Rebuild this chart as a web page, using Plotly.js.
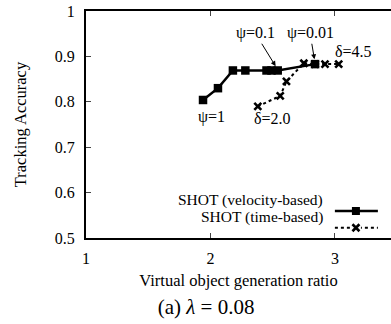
<!DOCTYPE html>
<html><head><meta charset="utf-8">
<script src="https://cdn.plot.ly/plotly-3.0.1.min.js"></script>
<style>html,body{margin:0;padding:0;background:#fff}#c{width:391px;height:324px}</style>
</head><body><div id="c"></div>
<script>
// Velocity-based SHOT
const velRatio = [1.94, 2.06, 2.18, 2.28, 2.45, 2.49, 2.54, 2.84];
const velAcc   = [0.804, 0.83, 0.869, 0.869, 0.869, 0.869, 0.869, 0.883];
// Time-based SHOT
const timeRatio = [2.38, 2.56, 2.61, 2.75, 2.84, 2.92, 3.03];
const timeAcc   = [0.79, 0.813, 0.845, 0.885, 0.883, 0.883, 0.883];
const seriesNames = ['SHOT (velocity-based)', 'SHOT (time-based)'];
const yTicks = [0.5, 0.6, 0.7, 0.8, 0.9, 1];
const yTickText = ['0.5', '0.6', '0.7', '0.8', '0.9', '1'];
const xTicks = [1, 2, 3];

const F = '"Liberation Serif", "Times New Roman", Times, serif';

const traces = [
  {x: velRatio, y: velAcc, name: seriesNames[0], mode: 'lines+markers',
   line: {color: '#000', width: 2.5},
   marker: {symbol: 'square', size: 8.5, color: '#000'}},
  {x: timeRatio, y: timeAcc, name: seriesNames[1], mode: 'lines+markers',
   line: {color: '#000', width: 2, dash: 'dot'},
   marker: {symbol: 'x-thin', size: 7, color: '#000', line: {width: 2.6, color: '#000'}}}
];

const FS = 16;
const LFS = 15.5;
const ann = (text, x, y, extra) => Object.assign({text, x, y, xref: 'x', yref: 'y', showarrow: false,
  font: {family: F, size: FS, color: '#000'}}, extra || {});

const legY1 = 0.119, legY2 = 0.045, legX0 = 0.816, legX1 = 0.957, legXm = 0.885, legText = 0.784;

const layout = {
  width: 391, height: 324,
  margin: {l: 86, r: 0, t: 11, b: 86},
  paper_bgcolor: '#fff', plot_bgcolor: '#fff',
  showlegend: false,
  font: {family: F, size: FS, color: '#000'},
  title: {text: '(a) <i>λ</i> = 0.08', font: {family: F, size: 21, color: '#000'},
          x: 0.527, xanchor: 'center', y: 0.055, yanchor: 'middle', yref: 'container'},
  xaxis: {range: [1, 3.45], tickvals: xTicks, ticks: 'inside', ticklen: 5, tickwidth: 1,
          showline: true, linewidth: 2, linecolor: '#000', mirror: 'ticks', showgrid: false, zeroline: false,
          ticklabelstandoff: 5, tickfont: {family: F, size: FS},
          title: {text: 'Virtual object generation ratio', font: {family: F, size: 16.5}, standoff: 8}},
  yaxis: {range: [0.5, 1], tickvals: yTicks, ticktext: yTickText, ticks: 'inside', ticklen: 5, tickwidth: 1,
          showline: true, linewidth: 2, linecolor: '#000', mirror: false, showgrid: false, zeroline: false,
          ticklabelstandoff: 6, tickfont: {family: F, size: FS},
          title: {text: 'Tracking Accuracy', font: {family: F, size: 16.5}, standoff: 24}},
  annotations: [
    ann('ψ=1', 2.01, 0.767),
    ann('δ=2.0', 2.50, 0.764),
    ann('δ=4.5', 3.15, 0.910),
    {text: 'ψ=0.1', x: 2.54, y: 0.871, ax: 2.36, ay: 0.951, axref: 'x', ayref: 'y', xref: 'x', yref: 'y',
     showarrow: true, arrowhead: 2, arrowsize: 1, arrowwidth: 1, standoff: 4, arrowcolor: '#000',
     font: {family: F, size: FS, color: '#000'}},
    {text: 'ψ=0.01', x: 2.84, y: 0.885, ax: 2.80, ay: 0.951, axref: 'x', ayref: 'y', xref: 'x', yref: 'y',
     showarrow: true, arrowhead: 2, arrowsize: 1, arrowwidth: 1, standoff: 4, arrowcolor: '#000',
     font: {family: F, size: FS, color: '#000'}},
    {text: seriesNames[0], x: legText, y: legY1, xref: 'paper', yref: 'paper', xanchor: 'right',
     showarrow: false, font: {family: F, size: LFS, color: '#000'}},
    {text: seriesNames[1], x: legText, y: legY2, xref: 'paper', yref: 'paper', xanchor: 'right',
     showarrow: false, font: {family: F, size: LFS, color: '#000'}}
  ],
  shapes: [
    {type: 'line', xref: 'paper', yref: 'paper', x0: legX0, x1: legX1, y0: legY1, y1: legY1,
     line: {color: '#000', width: 2.5}},
    {type: 'rect', xref: 'paper', yref: 'paper', xsizemode: 'pixel', ysizemode: 'pixel',
     xanchor: legXm, yanchor: legY1, x0: -4, x1: 4, y0: -4, y1: 4,
     fillcolor: '#000', line: {width: 0}},
    {type: 'line', xref: 'paper', yref: 'paper', x0: legX0, x1: legX1, y0: legY2, y1: legY2,
     line: {color: '#000', width: 2, dash: 'dot'}},
    {type: 'rect', xref: 'paper', yref: 'paper', xsizemode: 'pixel', ysizemode: 'pixel',
     xanchor: legXm, yanchor: legY2, x0: -5, x1: 5, y0: -2, y1: 2, fillcolor: '#fff', line: {width: 0}},
    {type: 'path', xref: 'paper', yref: 'paper', xsizemode: 'pixel', ysizemode: 'pixel',
     xanchor: legXm, yanchor: legY2, path: 'M-3.5,-3.5L3.5,3.5M-3.5,3.5L3.5,-3.5',
     line: {color: '#000', width: 2.6}}
  ]
};

Plotly.newPlot('c', traces, layout, {displayModeBar: false, staticPlot: true});
</script></body></html>
